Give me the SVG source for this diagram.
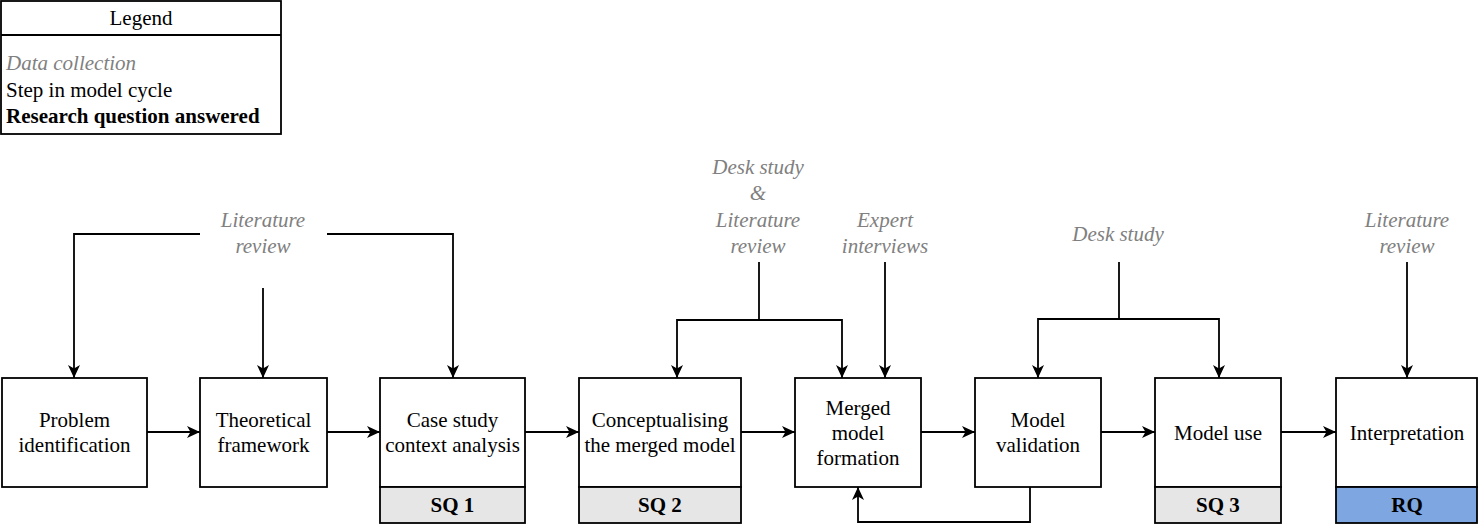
<svg xmlns="http://www.w3.org/2000/svg" width="1478" height="524" viewBox="0 0 1478 524" font-family="'Liberation Serif', 'Times New Roman', serif">
<style>
text{font-family:"Liberation Serif","Times New Roman",serif;font-size:21px;fill:#000}
.c{text-anchor:middle}
.dc{font-style:italic;fill:#808080}
.b{font-weight:bold}
.box{fill:#fff;stroke:#000;stroke-width:1.8}
.sq{fill:#e6e6e6;stroke:#000;stroke-width:1.8}
.rq{fill:#7ea6e0;stroke:#000;stroke-width:1.8}
.ln{fill:none;stroke:#000;stroke-width:1.8}
</style>
<defs>
<marker id="arr" viewBox="0 0 13 12" refX="13" refY="6" markerWidth="13" markerHeight="12" orient="auto" markerUnits="userSpaceOnUse">
<path d="M0,0 L13,6 L0,12 L3.5,6 z" fill="#000"/>
</marker>
</defs>
<rect width="1478" height="524" fill="#fff"/>

<g id="legend">
<rect class="box" x="1" y="1" width="280" height="133"/>
<line class="ln" x1="1" y1="35" x2="281" y2="35"/>
<text class="c" x="141" y="25">Legend</text>
<text class="dc" x="6" y="70">Data collection</text>
<text x="6" y="97">Step in model cycle</text>
<text class="b" x="6" y="123">Research question answered</text>
</g>

<g id="dc-lit1"><text class="c dc" x="263" y="227">Literature</text><text class="c dc" x="263" y="253">review</text></g>
<g id="dc-desklit"><text class="c dc" x="758" y="174">Desk study</text><text class="c dc" x="758" y="200">&amp;</text><text class="c dc" x="758" y="227">Literature</text><text class="c dc" x="758" y="253">review</text></g>
<g id="dc-expert"><text class="c dc" x="885" y="227">Expert</text><text class="c dc" x="885" y="253">interviews</text></g>
<g id="dc-desk"><text class="c dc" x="1118" y="241">Desk study</text></g>
<g id="dc-lit2"><text class="c dc" x="1407" y="227">Literature</text><text class="c dc" x="1407" y="253">review</text></g>

<g id="n-problem"><rect class="box" x="2" y="378" width="145" height="109"/><text class="c" x="74.5" y="427">Problem</text><text class="c" x="74.5" y="452">identification</text></g>
<g id="n-theory"><rect class="box" x="200" y="378" width="127" height="109"/><text class="c" x="263.5" y="427">Theoretical</text><text class="c" x="263.5" y="452">framework</text></g>
<g id="n-case"><rect class="box" x="380" y="378" width="145" height="109"/><text class="c" x="452.5" y="427">Case study</text><text class="c" x="452.5" y="452">context analysis</text><rect class="sq" x="380" y="487" width="145" height="36"/><text class="c b" x="452.5" y="512">SQ 1</text></g>
<g id="n-concept"><rect class="box" x="579" y="378" width="162" height="109"/><text class="c" x="660" y="427">Conceptualising</text><text class="c" x="660" y="452">the merged model</text><rect class="sq" x="579" y="487" width="162" height="36"/><text class="c b" x="660" y="512">SQ 2</text></g>
<g id="n-merged"><rect class="box" x="795" y="378" width="126" height="109"/><text class="c" x="858" y="415">Merged</text><text class="c" x="858" y="440">model</text><text class="c" x="858" y="465">formation</text></g>
<g id="n-valid"><rect class="box" x="975" y="378" width="126" height="109"/><text class="c" x="1038" y="427">Model</text><text class="c" x="1038" y="452">validation</text></g>
<g id="n-use"><rect class="box" x="1155" y="378" width="126" height="109"/><text class="c" x="1218" y="440">Model use</text><rect class="sq" x="1155" y="487" width="126" height="36"/><text class="c b" x="1218" y="512">SQ 3</text></g>
<g id="n-interp"><rect class="box" x="1336" y="378" width="141" height="109"/><text class="c" x="1407" y="440">Interpretation</text><rect class="rq" x="1336" y="487" width="141" height="36"/><text class="c b" x="1407" y="512">RQ</text></g>

<g id="connectors">
<path class="ln" marker-end="url(#arr)" d="M147,432 H200"/>
<path class="ln" marker-end="url(#arr)" d="M327,432 H380"/>
<path class="ln" marker-end="url(#arr)" d="M525,432 H579"/>
<path class="ln" marker-end="url(#arr)" d="M741,432 H795"/>
<path class="ln" marker-end="url(#arr)" d="M921,432 H975"/>
<path class="ln" marker-end="url(#arr)" d="M1101,432 H1155"/>
<path class="ln" marker-end="url(#arr)" d="M1281,432 H1336"/>
<path class="ln" marker-end="url(#arr)" d="M200,234 H74 V378"/>
<path class="ln" marker-end="url(#arr)" d="M263,288 V378"/>
<path class="ln" marker-end="url(#arr)" d="M327,234 H453 V378"/>
<path class="ln" d="M759,262 V320"/>
<path class="ln" marker-end="url(#arr)" d="M759,320 H677 V378"/>
<path class="ln" marker-end="url(#arr)" d="M759,320 H842 V378"/>
<path class="ln" marker-end="url(#arr)" d="M885,262 V378"/>
<path class="ln" d="M1119,262 V319"/>
<path class="ln" marker-end="url(#arr)" d="M1119,319 H1038 V378"/>
<path class="ln" marker-end="url(#arr)" d="M1119,319 H1219 V378"/>
<path class="ln" marker-end="url(#arr)" d="M1407,262 V378"/>
<path class="ln" marker-end="url(#arr)" d="M1030,487 V522 H858 V487"/>
</g>
</svg>
